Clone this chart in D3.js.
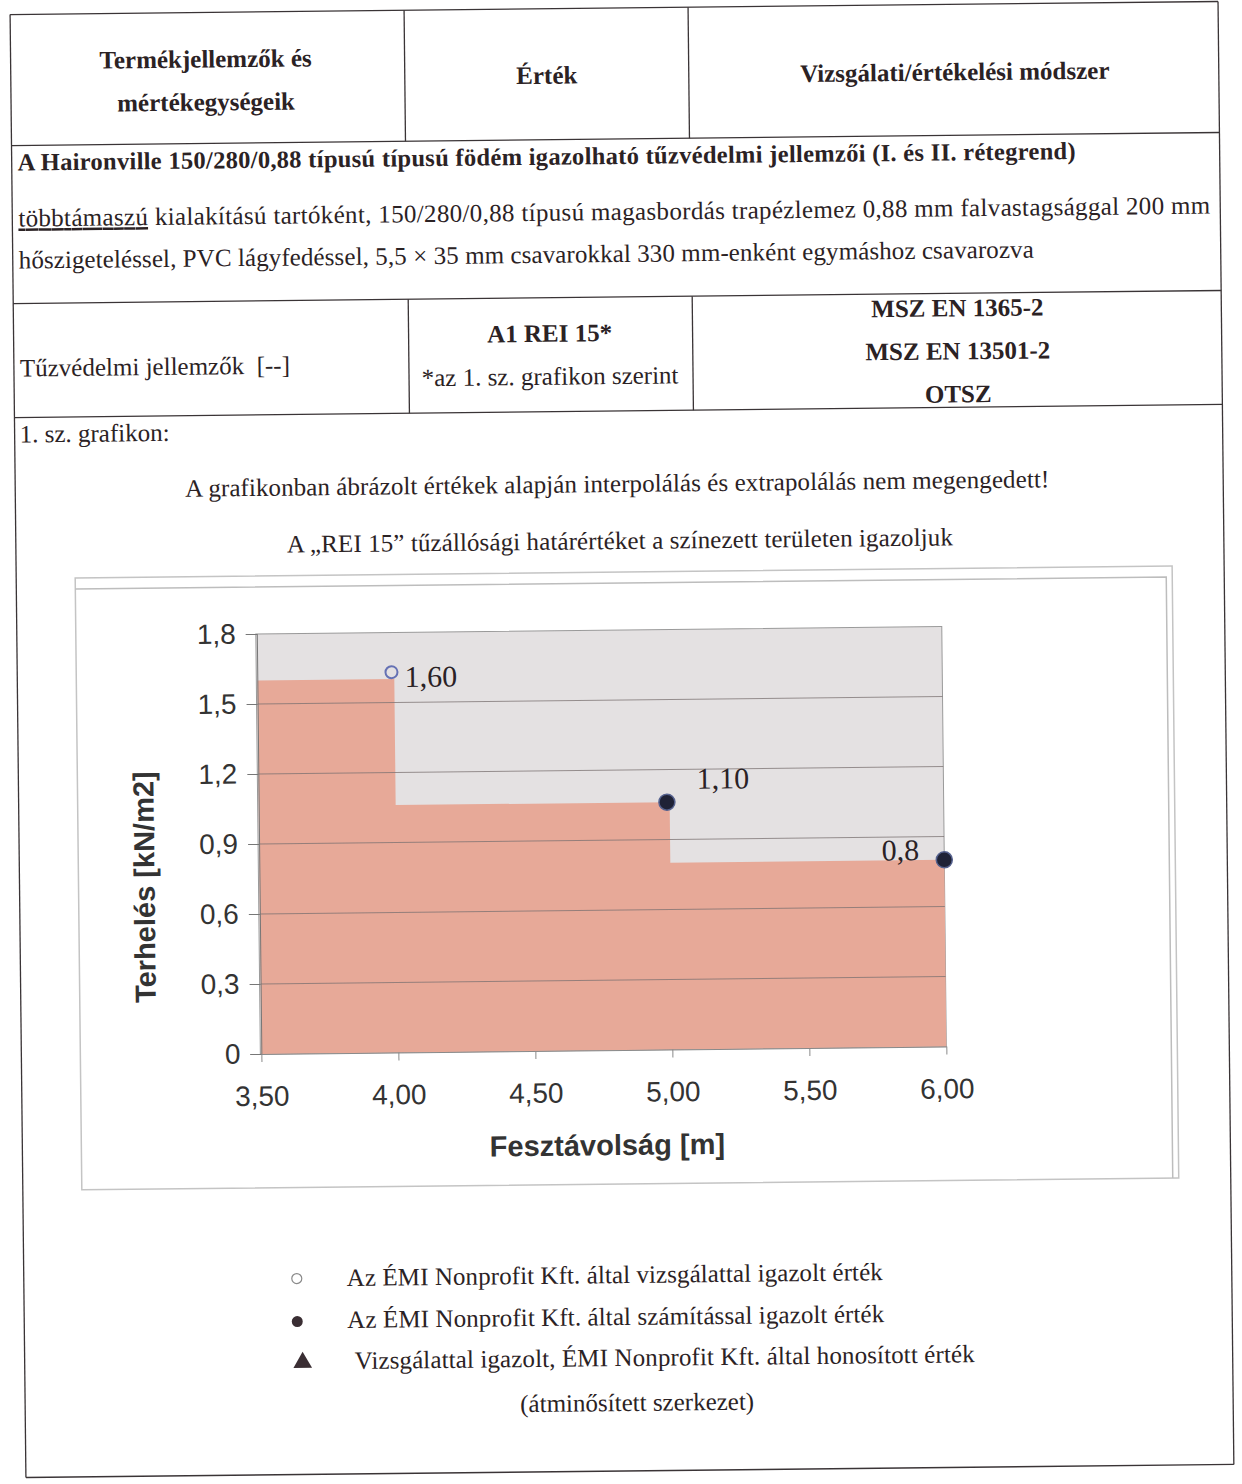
<!DOCTYPE html>
<html>
<head>
<meta charset="utf-8">
<script src="https://cdnjs.cloudflare.com/ajax/libs/d3/7.8.5/d3.min.js"></script>
<style>
  body { margin: 0; background: #fff; }
  svg { display: block; }
</style>
</head>
<body>
<div class="page"></div>
<script>
// chart values
const spanEdges = [3.5, 4.0, 5.0, 6.0];
const loadSteps = [1.60, 1.06, 0.80];
const pointSpan = [3.99, 4.99, 6.00];
const pointLoad = [1.63, 1.06, 0.80];
const pointLabels = ['1,60', '1,10', '0,8'];
const pointType = ['test', 'calc', 'calc'];
const xTicks = [3.5, 4.0, 4.5, 5.0, 5.5, 6.0];
const yTicks = [0, 0.3, 0.6, 0.9, 1.2, 1.5, 1.8];
const xTitle = 'Fesztávolság [m]';
const yTitle = 'Terhelés [kN/m2]';
const legendTexts = [
  'Az ÉMI Nonprofit Kft. által vizsgálattal igazolt érték',
  'Az ÉMI Nonprofit Kft. által számítással igazolt érték',
  'Vizsgálattal igazolt, ÉMI Nonprofit Kft. által honosított érték',
  '(átminősített szerkezet)'
];

const width = 1242;
const height = 1484;
const ink = '#2b2224';
const serif = "'Liberation Serif', 'Times New Roman', Times, serif";
const sans = "'Liberation Sans', Arial, sans-serif";

const svg = d3.select('.page')
              .append('svg:svg')
              .attr('width', width)
              .attr('height', height)
              .attr('viewBox', [0, 0, width, height]);

svg.append('rect').attr('width', width).attr('height', height).attr('fill', '#fff');

// the scan is turned a little
const page = svg.append('g').attr('transform', 'rotate(-0.62 621 742)');

// ---- table ----
const rule = (x1, y1, x2, y2) => page.append('line')
  .attr('x1', x1).attr('y1', y1).attr('x2', x2).attr('y2', y2)
  .attr('stroke', '#3a3436').attr('stroke-width', 1.3);

rule(18, 8, 1226, 8);
rule(18, 8, 18, 1471);
rule(1226, 8, 1226, 1471);
rule(18, 1471, 1226, 1471);
rule(18, 139, 1226, 139);
rule(18, 297, 1226, 297);
rule(18, 411, 1226, 411);
rule(412, 8, 412, 139);
rule(696, 8, 696, 139);
rule(413, 297, 413, 411);
rule(697, 297, 697, 411);

function label(text, x, y, opt = {}) {
  const t = page.append('text')
    .attr('x', x).attr('y', y)
    .attr('font-family', serif)
    .attr('font-size', opt.size || 25)
    .attr('font-weight', opt.bold ? 'bold' : 'normal')
    .attr('text-anchor', opt.anchor || 'start')
    .attr('fill', ink)
    .text(text);
  if (opt.len) t.attr('textLength', opt.len).attr('lengthAdjust', 'spacing');
  return t;
}

label('Termékjellemzők és', 213, 63, {bold: true, anchor: 'middle'});
label('mértékegységeik', 213, 106, {bold: true, anchor: 'middle'});
label('Érték', 554, 83, {bold: true, anchor: 'middle'});
label('Vizsgálati/értékelési módszer', 962, 84, {bold: true, anchor: 'middle'});

label('A Haironville 150/280/0,88 típusú típusú födém igazolható tűzvédelmi jellemzői (I. és II. rétegrend)',
      24, 164, {bold: true, size: 24.5, len: 1058});

const para = label('', 24, 220, {len: 1192});
para.append('tspan').attr('text-decoration', 'underline').text('többtámaszú');
para.append('tspan').text(' kialakítású tartóként, 150/280/0,88 típusú magasbordás trapézlemez 0,88 mm falvastagsággal 200 mm');
label('hőszigeteléssel, PVC lágyfedéssel, 5,5 × 35 mm csavarokkal 330 mm-enként egymáshoz csavarozva',
      24, 262, {len: 1015});

label('Tűzvédelmi jellemzők \u00a0[--]', 24, 370);
label('A1 REI 15*', 554, 341, {bold: true, anchor: 'middle'});
label('*az 1. sz. grafikon szerint', 554, 384, {anchor: 'middle'});
label('MSZ EN 1365-2', 962, 320, {bold: true, anchor: 'middle'});
label('MSZ EN 13501-2', 962, 363, {bold: true, anchor: 'middle'});
label('OTSZ', 962, 406, {bold: true, anchor: 'middle'});

label('1. sz. grafikon:', 23, 436);
label('A grafikonban ábrázolt értékek alapján interpolálás és extrapolálás nem megengedett!',
      620, 492, {anchor: 'middle', len: 864});
label('A \u201eREI 15\u201d tűzállósági határértéket a színezett területen igazoljuk',
      622, 549, {anchor: 'middle', len: 666});

// ---- chart frame ----
page.append('rect')
    .attr('x', 77).attr('y', 572).attr('width', 1097).attr('height', 612)
    .attr('fill', '#fff').attr('stroke', '#c4c4c4').attr('stroke-width', 1.5);
page.append('path')
    .attr('d', 'M77,583H1168V1184')
    .attr('fill', 'none').attr('stroke', '#bdbdbd').attr('stroke-width', 1.5);

const x = d3.scaleLinear()
            .domain([3.5, 6.0])
            .range([258, 943]);

const y = d3.scaleLinear()
            .domain([0, 1.8])
            .range([1050, 630]);

const locale = d3.formatLocale({decimal: ',', thousands: ' ', grouping: [3], currency: ['', '']});
const fmtX = locale.format('.2f');
const fmtY = d => d === 0 ? '0' : locale.format('.1f')(d);

const chart = page.append('g');

chart.append('rect')
     .attr('x', x(3.5) - 1).attr('y', y(1.8))
     .attr('width', x(6.0) - x(3.5) + 1).attr('height', y(0) - y(1.8))
     .attr('fill', '#e4e1e2').attr('stroke', '#9a9a9a');

const stepData = spanEdges.map((s, i) => ({s, v: loadSteps[Math.min(i, loadSteps.length - 1)]}));

const area = d3.area()
               .x(d => x(d.s))
               .y0(y(0))
               .y1(d => y(d.v))
               .curve(d3.curveStepAfter);

chart.append('path')
     .datum(stepData)
     .attr('d', area)
     .attr('fill', '#e7a998');

chart.append('g')
     .selectAll('line')
     .data(yTicks.filter(d => d > 0 && d < 1.8))
     .enter().append('line')
     .attr('x1', x(3.5)).attr('x2', x(6.0))
     .attr('y1', d => y(d)).attr('y2', d => y(d))
     .attr('stroke', '#7a7070').attr('stroke-opacity', 0.75);

const yAxis = g => g
  .attr('transform', `translate(${x(3.5)},0)`)
  .call(d3.axisLeft(y).tickValues(yTicks).tickFormat(fmtY).tickSize(11).tickPadding(10))
  .call(g => g.selectAll('line, path').attr('stroke', '#777'))
  .call(g => g.selectAll('text').attr('font-family', sans).attr('font-size', 28).attr('fill', '#333'));

const xAxis = g => g
  .attr('transform', `translate(0,${y(0)})`)
  .call(d3.axisBottom(x).tickValues(xTicks).tickFormat(fmtX).tickSize(8).tickPadding(24).tickSizeOuter(0))
  .call(g => g.selectAll('line, path').attr('stroke', '#8a8a8a'))
  .call(g => g.selectAll('text').attr('font-family', sans).attr('font-size', 28).attr('fill', '#333'));

chart.append('g').call(yAxis);
chart.append('g').call(xAxis);

chart.append('text')
     .attr('x', 603).attr('y', 1155)
     .attr('text-anchor', 'middle')
     .attr('font-family', sans).attr('font-size', 29).attr('font-weight', 'bold')
     .attr('fill', '#333')
     .text(xTitle);

chart.append('text')
     .attr('transform', 'translate(153,882) rotate(-90)')
     .attr('text-anchor', 'middle')
     .attr('font-family', sans).attr('font-size', 29).attr('font-weight', 'bold')
     .attr('fill', '#333')
     .text(yTitle);

const points = pointSpan.map((s, i) => ({s, v: pointLoad[i], label: pointLabels[i], type: pointType[i]}));

chart.selectAll('circle.pt')
     .data(points)
     .enter().append('svg:circle')
     .attr('class', 'pt')
     .attr('cx', d => x(d.s))
     .attr('cy', d => y(d.v))
     .attr('r', d => d.type === 'test' ? 6 : 8)
     .attr('fill', d => d.type === 'test' ? 'none' : '#1f2236')
     .attr('stroke', d => d.type === 'test' ? '#6571b4' : '#56628f')
     .attr('stroke-width', d => d.type === 'test' ? 2 : 1.5);

const labelOffset = [[13, 15, 'start'], [30, -13, 'start'], [-25, 0, 'end']];

chart.selectAll('text.pl')
     .data(points)
     .enter().append('text')
     .attr('class', 'pl')
     .attr('x', (d, i) => x(d.s) + labelOffset[i][0])
     .attr('y', (d, i) => y(d.v) + labelOffset[i][1])
     .attr('text-anchor', (d, i) => labelOffset[i][2])
     .attr('font-family', serif).attr('font-size', 30)
     .attr('fill', '#2a2226')
     .text(d => d.label);

// ---- legend ----
page.append('circle').attr('cx', 291).attr('cy', 1275).attr('r', 5)
    .attr('fill', 'none').attr('stroke', '#8a8a8a').attr('stroke-width', 1.2);
page.append('circle').attr('cx', 291).attr('cy', 1318).attr('r', 5.5)
    .attr('fill', '#3a2e33');
page.append('path')
    .attr('d', d3.symbol(d3.symbolTriangle, 150)())
    .attr('transform', 'translate(296,1359)')
    .attr('fill', '#3a2e33');

label(legendTexts[0], 341, 1283, {len: 536});
label(legendTexts[1], 341, 1325, {len: 537});
label(legendTexts[2], 348, 1366, {len: 620});
label(legendTexts[3], 630, 1411, {anchor: 'middle'});
</script>
</body>
</html>
